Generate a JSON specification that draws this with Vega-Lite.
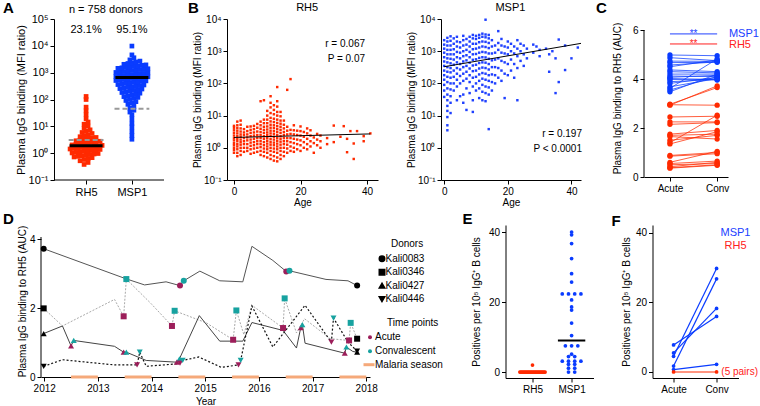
{
"$schema":"https://vega.github.io/schema/vega-lite/v6.json",
"padding":{"left":2,"top":0,"right":0,"bottom":0},
"background":"white",
"config":{
 "font":"Liberation Sans",
 "view":{"stroke":null},
 "axis":{"grid":false,"domainColor":"#000","tickColor":"#000","labelColor":"#000","titleColor":"#000","labelFontSize":10,"titleFontSize":10,"titleFontWeight":"normal","tickSize":4,"labelPadding":2,"labelFlush":false,"labelOverlap":false,"labelFont":"Liberation Sans","titleFont":"Liberation Sans"},
 "text":{"font":"Liberation Sans","color":"#000"},
 "legend":{"labelFontSize":10,"titleFontSize":10,"titleFontWeight":"normal","labelColor":"#000","titleColor":"#000","labelFont":"Liberation Sans","titleFont":"Liberation Sans","padding":0}
},
"datasets":{
 "a":[
  {"g":"RH5","v":[0.38,0.45,0.52,0.58,0.63,0.68,0.72,0.76,0.8,0.85,0.89,0.93,0.97,1.02,1.07,1.12,1.17,1.22,1.27,1.32,1.38,1.43,1.5,1.56,1.62,1.68,1.74,1.8,1.87,1.95,2.03,2.12,2.22,2.32,2.43,2.55,2.66,2.78,2.9,3.05,3.2,3.4,3.6,3.85,4.1,4.5,4.9,5.4,5.9,6.6,7.4,8.5,10.2,12,14.5,19,27,38,52,100,130]},
  {"g":"MSP1","v":[3.3,4.6,6.5,9.5,13,19,27,34,40,48,56,66,74,83,92,100,110,120,128,136,148,160,172,182,192,205,218,232,246,255,270,285,300,315,330,348,360,380,400,420,440,460,480,495,510,530,555,580,605,630,655,680,700,720,750,780,810,840,870,900,940,980,1020,1060,1100,1150,1200,1250,1300,1350,1400,1450,1520,1590,1660,1730,1800,1870,1950,2050,2200,2350,2500,2700,3000,3600,4600,9800]}
 ],
 "brh5":[
  {"a":0,"v":[0.7,0.85,1.0,1.2,1.4,1.7,2.0,2.4,2.9,3.5,4.2,4.8]},
  {"a":1,"v":[0.55,0.7,0.9,1.1,1.3,1.6,1.9,2.3,2.8,3.4,4.1,5.0,6.5]},
  {"a":2,"v":[0.6,0.8,1.0,1.25,1.5,1.8,2.2,2.6,3.2,4.0,5.2,7.0]},
  {"a":3,"v":[0.75,1.0,1.3,1.6,2.0,2.5,3.0,3.8]},
  {"a":4,"v":[0.8,1.0,1.3,1.7,2.1,2.6,3.3,4.5]},
  {"a":5,"v":[0.65,0.9,1.15,1.45,1.8,2.3,2.9,3.6,4.6]},
  {"a":6,"v":[0.7,0.95,1.2,1.5,1.9,2.4,3.0,3.8,4.8]},
  {"a":7,"v":[0.75,1.0,1.3,1.6,2.0,2.5,3.2,4.2,5.5]},
  {"a":8,"v":[0.6,0.8,1.05,1.3,1.6,2.0,2.5,3.1,3.9,5.0,6.5,28]},
  {"a":9,"v":[0.55,0.75,0.95,1.2,1.5,1.9,2.3,2.9,3.6,4.5,5.8,7.5,30]},
  {"a":10,"v":[0.5,0.7,0.9,1.1,1.35,1.65,2.0,2.5,3.0,3.7,4.6,5.8,7.5,10,14]},
  {"a":11,"v":[0.45,0.6,0.8,1.0,1.25,1.5,1.85,2.3,2.8,3.4,4.2,5.2,6.6,8.5,12,18,25,40]},
  {"a":12,"v":[0.4,0.55,0.75,0.95,1.2,1.45,1.8,2.2,2.7,3.3,4.1,5.0,6.3,8,11,15,21]},
  {"a":13,"v":[0.38,0.5,0.7,0.9,1.1,1.35,1.65,2.0,2.5,3.1,3.8,4.7,5.9,7.5,10,13,19,28,77]},
  {"a":14,"v":[0.45,0.6,0.8,1.0,1.25,1.55,1.9,2.3,2.9,3.6,4.5,5.6,7,9.5,13]},
  {"a":15,"v":[0.55,0.75,1.0,1.3,1.6,2.0,2.5,3.1,4.0,5.2,7.0]},
  {"a":16,"v":[0.7,0.95,1.25,1.6,2.0,2.6,3.4,4.5,63]},
  {"a":17,"v":[0.8,1.1,1.5,2.0,2.7,3.6,136]},
  {"a":18,"v":[0.75,1.0,1.4,1.9,2.6,3.5,5.0]},
  {"a":19,"v":[0.9,1.3,1.8,2.5,3.4]},
  {"a":20,"v":[0.8,1.2,1.7,2.4,3.3,4.6]},
  {"a":21,"v":[1.0,1.5,2.2,3.1]},
  {"a":22,"v":[0.9,1.3,1.9,2.8,4.0]},
  {"a":23,"v":[1.1,1.6,2.4,3.5]},
  {"a":24,"v":[0.7,1.4,2.1]},
  {"a":25,"v":[1.2,1.8,2.7]},
  {"a":26,"v":[1.0,1.6,2.4]},
  {"a":28,"v":[1.3,2.0]},
  {"a":30,"v":[4.9,1.5]},
  {"a":32,"v":[2.2]},
  {"a":33,"v":[4.7]},
  {"a":34,"v":[1.9,0.73]},
  {"a":35,"v":[3.3]},
  {"a":36,"v":[1.36,0.45]},
  {"a":37,"v":[3.3]},
  {"a":39,"v":[2.3,1.6]},
  {"a":41,"v":[2.8]}
 ],
 "bmsp1":[
  {"a":0,"v":[38,60,90,130,180,250,350,480,650,900,1200,1600,2200]},
  {"a":1,"v":[3.5,5,9,14,20,30,45,70,110,160,230,320,450,600,800,1100,1500,2000,2600]},
  {"a":2,"v":[12,25,40,65,100,150,220,300,420,580,800,1100,1500,2100,2900]},
  {"a":3,"v":[60,100,160,250,380,550,800,1150,1700,2500]},
  {"a":4,"v":[30,80,130,200,300,450,650,950,1400,2000,2800]},
  {"a":5,"v":[40,100,170,270,400,600,900,1300,1900]},
  {"a":6,"v":[25,45,120,200,320,480,700,1000,1500,2200,3000]},
  {"a":7,"v":[15,70,140,230,350,520,750,1100,1600,2400]},
  {"a":8,"v":[50,110,180,290,440,650,950,1400,2000,2800]},
  {"a":9,"v":[13,30,80,150,240,360,540,800,1150,1700,2500,3200]},
  {"a":10,"v":[60,100,160,250,380,560,820,1200,1700,2400,3000]},
  {"a":11,"v":[35,70,120,190,290,430,620,900,1300,1900,2600,3200]},
  {"a":12,"v":[30,55,90,140,210,310,450,650,950,1400,2000,2800,3500]},
  {"a":13,"v":[28,50,80,130,200,300,440,640,920,1350,1950,2700,3300,9500]},
  {"a":14,"v":[3.8,45,75,120,180,270,400,580,850,1250,1800,2500,3200]},
  {"a":15,"v":[60,110,190,320,520,850,1400,2200]},
  {"a":16,"v":[100,180,320,550,900,1500]},
  {"a":17,"v":[150,300,600,1100,1800,4200]},
  {"a":18,"v":[120,250,500,900,1500,2400]},
  {"a":19,"v":[35,200,450,850,1400]},
  {"a":20,"v":[180,400,800,1300,2000]},
  {"a":21,"v":[250,550,1000,1700]},
  {"a":22,"v":[150,400,850,1400]},
  {"a":23,"v":[30,300,700,1200,2200]},
  {"a":24,"v":[500,1000,1700]},
  {"a":25,"v":[350,800,1500]},
  {"a":26,"v":[600,1200]},
  {"a":28,"v":[900,1600]},
  {"a":29,"v":[1400]},
  {"a":30,"v":[700,1100]},
  {"a":32,"v":[1200]},
  {"a":33,"v":[230,800]},
  {"a":34,"v":[1000]},
  {"a":35,"v":[50,600]},
  {"a":36,"v":[110,2300]},
  {"a":38,"v":[260,1500]},
  {"a":40,"v":[600]},
  {"a":42,"v":[1300]}
 ],
 "c":[
  {"ag":"MSP1","ac":4.98,"cv":4.95},{"ag":"MSP1","ac":4.87,"cv":4.75},{"ag":"MSP1","ac":4.73,"cv":4.72},{"ag":"MSP1","ac":4.67,"cv":4.68},{"ag":"MSP1","ac":4.57,"cv":4.7},{"ag":"MSP1","ac":4.5,"cv":4.78},{"ag":"MSP1","ac":4.37,"cv":4.3},{"ag":"MSP1","ac":4.3,"cv":4.25},{"ag":"MSP1","ac":4.2,"cv":4.2},{"ag":"MSP1","ac":4.12,"cv":4.1},{"ag":"MSP1","ac":4.07,"cv":4.15},{"ag":"MSP1","ac":3.98,"cv":4.0},{"ag":"MSP1","ac":3.89,"cv":3.98},{"ag":"MSP1","ac":3.82,"cv":4.07},{"ag":"MSP1","ac":3.68,"cv":4.02},{"ag":"MSP1","ac":3.62,"cv":4.82},{"ag":"MSP1","ac":3.55,"cv":4.1},{"ag":"MSP1","ac":3.48,"cv":4.2},{"ag":"MSP1","ac":4.02,"cv":3.96},
  {"ag":"RH5","ac":2.93,"cv":3.72},{"ag":"RH5","ac":2.95,"cv":2.93},{"ag":"RH5","ac":2.97,"cv":3.65},{"ag":"RH5","ac":2.45,"cv":2.48},{"ag":"RH5","ac":2.25,"cv":2.25},{"ag":"RH5","ac":2.15,"cv":2.22},{"ag":"RH5","ac":1.75,"cv":1.9},{"ag":"RH5","ac":1.7,"cv":1.75},{"ag":"RH5","ac":1.65,"cv":1.55},{"ag":"RH5","ac":1.5,"cv":1.7},{"ag":"RH5","ac":1.4,"cv":2.52},{"ag":"RH5","ac":1.35,"cv":1.85},{"ag":"RH5","ac":0.88,"cv":1.0},{"ag":"RH5","ac":0.85,"cv":0.95},{"ag":"RH5","ac":0.6,"cv":1.05},{"ag":"RH5","ac":0.55,"cv":0.65},{"ag":"RH5","ac":0.5,"cv":0.55},{"ag":"RH5","ac":0.42,"cv":0.6},{"ag":"RH5","ac":0.38,"cv":0.5},{"ag":"RH5","ac":0.36,"cv":0.48}
 ],
 "d":[
  {"d":"Kali0083","x":2011.99,"v":3.72,"t":"Donor"},{"d":"Kali0083","x":2013.52,"v":2.85,"t":""},{"d":"Kali0083","x":2013.87,"v":2.67,"t":""},{"d":"Kali0083","x":2014.27,"v":2.76,"t":""},{"d":"Kali0083","x":2014.53,"v":2.65,"t":"Acute"},{"d":"Kali0083","x":2014.6,"v":2.79,"t":"Convalescent"},{"d":"Kali0083","x":2014.9,"v":3.07,"t":""},{"d":"Kali0083","x":2015.27,"v":2.79,"t":""},{"d":"Kali0083","x":2015.7,"v":2.76,"t":""},{"d":"Kali0083","x":2015.87,"v":3.79,"t":""},{"d":"Kali0083","x":2016.26,"v":3.38,"t":""},{"d":"Kali0083","x":2016.51,"v":3.06,"t":"Acute"},{"d":"Kali0083","x":2016.57,"v":3.08,"t":"Convalescent"},{"d":"Kali0083","x":2017.25,"v":2.83,"t":""},{"d":"Kali0083","x":2017.66,"v":2.79,"t":""},{"d":"Kali0083","x":2017.83,"v":2.65,"t":"Donor"},
  {"d":"Kali0346","x":2011.99,"v":1.99,"t":"Donor"},{"d":"Kali0346","x":2012.34,"v":1.48,"t":""},{"d":"Kali0346","x":2013.31,"v":2.25,"t":""},{"d":"Kali0346","x":2013.48,"v":1.76,"t":"Acute"},{"d":"Kali0346","x":2013.53,"v":2.84,"t":"Convalescent"},{"d":"Kali0346","x":2013.99,"v":2.13,"t":""},{"d":"Kali0346","x":2014.38,"v":1.48,"t":"Acute"},{"d":"Kali0346","x":2014.43,"v":1.92,"t":"Convalescent"},{"d":"Kali0346","x":2015.02,"v":1.57,"t":""},{"d":"Kali0346","x":2015.52,"v":1.08,"t":"Acute"},{"d":"Kali0346","x":2015.58,"v":1.93,"t":"Convalescent"},{"d":"Kali0346","x":2015.72,"v":1.23,"t":""},{"d":"Kali0346","x":2015.87,"v":2.08,"t":""},{"d":"Kali0346","x":2016.45,"v":1.42,"t":"Acute"},{"d":"Kali0346","x":2016.48,"v":2.28,"t":"Convalescent"},{"d":"Kali0346","x":2016.7,"v":1.28,"t":""},{"d":"Kali0346","x":2016.85,"v":1.69,"t":""},{"d":"Kali0346","x":2017.33,"v":1.11,"t":""},{"d":"Kali0346","x":2017.68,"v":1.06,"t":"Acute"},{"d":"Kali0346","x":2017.71,"v":1.57,"t":"Convalescent"},{"d":"Kali0346","x":2017.83,"v":1.11,"t":"Donor"},
  {"d":"Kali0427","x":2011.99,"v":1.26,"t":"Donor"},{"d":"Kali0427","x":2012.34,"v":1.48,"t":""},{"d":"Kali0427","x":2012.5,"v":0.9,"t":"Acute"},{"d":"Kali0427","x":2012.55,"v":1.06,"t":"Convalescent"},{"d":"Kali0427","x":2013.31,"v":0.89,"t":""},{"d":"Kali0427","x":2013.48,"v":0.72,"t":"Acute"},{"d":"Kali0427","x":2013.53,"v":0.72,"t":"Convalescent"},{"d":"Kali0427","x":2013.9,"v":0.48,"t":""},{"d":"Kali0427","x":2014.47,"v":0.43,"t":"Acute"},{"d":"Kali0427","x":2014.52,"v":0.53,"t":"Convalescent"},{"d":"Kali0427","x":2014.89,"v":1.78,"t":""},{"d":"Kali0427","x":2015.27,"v":1.04,"t":""},{"d":"Kali0427","x":2015.7,"v":1.04,"t":""},{"d":"Kali0427","x":2015.87,"v":1.58,"t":""},{"d":"Kali0427","x":2016.45,"v":1.35,"t":""},{"d":"Kali0427","x":2016.7,"v":0.84,"t":""},{"d":"Kali0427","x":2016.78,"v":1.43,"t":"Acute"},{"d":"Kali0427","x":2016.81,"v":1.52,"t":"Convalescent"},{"d":"Kali0427","x":2016.86,"v":0.98,"t":""},{"d":"Kali0427","x":2017.6,"v":0.69,"t":"Acute"},{"d":"Kali0427","x":2017.63,"v":0.87,"t":"Convalescent"},{"d":"Kali0427","x":2017.75,"v":0.74,"t":""},{"d":"Kali0427","x":2017.83,"v":0.72,"t":"Donor"},
  {"d":"Kali0446","x":2011.99,"v":0.31,"t":"Donor"},{"d":"Kali0446","x":2012.34,"v":0.5,"t":""},{"d":"Kali0446","x":2013.31,"v":0.35,"t":""},{"d":"Kali0446","x":2013.73,"v":0.35,"t":"Acute"},{"d":"Kali0446","x":2013.78,"v":0.72,"t":"Convalescent"},{"d":"Kali0446","x":2013.9,"v":0.31,"t":""},{"d":"Kali0446","x":2014.46,"v":0.38,"t":""},{"d":"Kali0446","x":2014.53,"v":0.4,"t":"Acute"},{"d":"Kali0446","x":2014.58,"v":0.48,"t":"Convalescent"},{"d":"Kali0446","x":2014.88,"v":0.58,"t":""},{"d":"Kali0446","x":2015.3,"v":0.28,"t":""},{"d":"Kali0446","x":2015.62,"v":0.35,"t":"Acute"},{"d":"Kali0446","x":2015.66,"v":0.48,"t":"Convalescent"},{"d":"Kali0446","x":2015.87,"v":2.06,"t":""},{"d":"Kali0446","x":2016.26,"v":0.87,"t":""},{"d":"Kali0446","x":2016.86,"v":2.08,"t":""},{"d":"Kali0446","x":2017.35,"v":1.01,"t":"Acute"},{"d":"Kali0446","x":2017.39,"v":1.71,"t":"Convalescent"},{"d":"Kali0446","x":2017.66,"v":1.01,"t":""},{"d":"Kali0446","x":2017.83,"v":0.75,"t":"Donor"}
 ],
 "seasons":[{"s":2012.5,"e":2013.0},{"s":2013.5,"e":2014.0},{"s":2014.5,"e":2015.0},{"s":2015.5,"e":2016.0},{"s":2016.5,"e":2017.0},{"s":2017.5,"e":2018.0}],
 "e":[
  {"g":"RH5","v":[0,0,0,0,0,0,0,0,0,0,0,0,0,0,0,0,0,0,0,0,0,0,0,0,2]},
  {"g":"MSP1","v":[40.0,39.2,36.7,32.4,28.1,25.7,22.3,22.3,22.3,22.3,20.6,18.6,17.7,14.0,10.4,7.5,7.5,7.5,5.1,4.4,4.4,3.1,3.1,3.1,3.1,2.2,2.2,1.1,1.1,0,0]}
 ],
 "f":[
  {"ag":"MSP1","ac":7.8,"cv":16.0},{"ag":"MSP1","ac":5.5,"cv":18.3},{"ag":"MSP1","ac":4.5,"cv":29.8},{"ag":"MSP1","ac":1.7,"cv":26.8},{"ag":"MSP1","ac":0.7,"cv":2.2},{"ag":"RH5","ac":0,"cv":0}
 ]
},
"concat":[
 {"hconcat":[
    {"width":123,"height":161,
     "layer":[
      {"data":{"name":"a"},
       "transform":[{"flatten":["v"]},{"calculate":"floor(log(datum.v)/LN10/0.15)","as":"bin"},{"window":[{"op":"row_number","as":"rn"}],"groupby":["g","bin"]},{"joinaggregate":[{"op":"count","as":"n"}],"groupby":["g","bin"]},{"calculate":"(datum.g=='RH5'?1:2)+(datum.rn-1-(datum.n-1)/2)*0.0873","as":"xp"}],
       "mark":{"type":"square","size":22,"opacity":1},
       "encoding":{
        "x":{"field":"xp","type":"quantitative","scale":{"domain":[0.0163,2.7],"nice":false,"zero":false},"axis":{"values":[1,2],"labelExpr":"datum.value==1?'RH5':'MSP1'","title":null,"labelFontSize":11,"domain":false}},
        "y":{"field":"v","type":"quantitative","scale":{"type":"log","domain":[0.1,100000],"nice":false},"axis":{"values":[0.1,1,10,100,1000,10000,100000],"labelExpr":"'10' + ['⁻¹','⁰','¹','²','³','⁴','⁵'][round(log(datum.value)/LN10)+1]","title":"Plasma IgG binding (MFI ratio)","titlePadding":2,"labelFontSize":11,"titleFontSize":11,"offset":-13}},
        "color":{"field":"g","type":"nominal","scale":{"domain":["RH5","MSP1"],"range":["#ff2a00","#0a3cff"]},"legend":null}}},
      {"data":{"values":[{}]},"mark":{"type":"rule","color":"#000","strokeWidth":1},"encoding":{"x":{"datum":0.3},"x2":{"datum":2.7},"y":{"datum":0.1}}},
      {"data":{"values":[{"g":"RH5","m":3.1},{"g":"MSP1","m":45}]},
       "transform":[{"calculate":"(datum.g=='RH5'?1:2)-0.38","as":"x1"},{"calculate":"(datum.g=='RH5'?1:2)+0.38","as":"x2"}],
       "mark":{"type":"rule","color":"#999999","strokeWidth":2,"strokeDash":[5,3]},
       "encoding":{"x":{"field":"x1","type":"quantitative"},"x2":{"field":"x2"},"y":{"field":"m","type":"quantitative"}}},
      {"data":{"values":[{"g":"RH5","m":1.88},{"g":"MSP1","m":660}]},
       "transform":[{"calculate":"(datum.g=='RH5'?1:2)-0.36","as":"x1"},{"calculate":"(datum.g=='RH5'?1:2)+0.36","as":"x2"}],
       "mark":{"type":"rule","color":"#000","strokeWidth":3},
       "encoding":{"x":{"field":"x1","type":"quantitative"},"x2":{"field":"x2"},"y":{"field":"m","type":"quantitative"}}},
      {"data":{"values":[{}]},"mark":{"type":"text","text":"23.1%","fontSize":11,"baseline":"middle"},"encoding":{"x":{"datum":1},"y":{"datum":39000}}},
      {"data":{"values":[{}]},"mark":{"type":"text","text":"95.1%","fontSize":11,"baseline":"middle"},"encoding":{"x":{"datum":2},"y":{"datum":39000}}},
      {"data":{"values":[{}]},"mark":{"type":"text","text":"n = 758 donors","fontSize":11,"baseline":"middle"},"encoding":{"x":{"datum":1.43},"y":{"datum":220000}}},
      {"data":{"values":[{}]},"mark":{"type":"text","text":"A","fontSize":15,"fontWeight":"bold","align":"left","baseline":"alphabetic"},"encoding":{"x":{"datum":-0.813},"y":{"datum":167000}}}
     ]},
    {"width":151,"height":161,
     "layer":[
      {"data":{"name":"brh5"},"transform":[{"flatten":["v"]}],
       "mark":{"type":"square","size":6,"color":"#ff2a00","opacity":1},
       "encoding":{
        "x":{"field":"a","type":"quantitative","scale":{"domain":[-2.1,43.3],"nice":false,"zero":false},"axis":{"values":[0,10,20,30,40],"title":"Age","titlePadding":1}},
        "y":{"field":"v","type":"quantitative","scale":{"type":"log","domain":[0.1,10000],"nice":false},"axis":{"values":[0.1,1,10,100,1000,10000],"labelExpr":"'10' + ['⁻¹','⁰','¹','²','³','⁴','⁵'][round(log(datum.value)/LN10)+1]","title":"Plasma IgG binding (MFI ratio)","titlePadding":1}}}},
      {"data":{"values":[{"a":0,"v":2.1},{"a":41,"v":2.7}]},"mark":{"type":"line","color":"#000","strokeWidth":1},"encoding":{"x":{"field":"a","type":"quantitative"},"y":{"field":"v","type":"quantitative"}}},
      {"data":{"values":[{}]},"mark":{"type":"text","text":"r = 0.067","align":"right","baseline":"middle","fontSize":10},"encoding":{"x":{"datum":39.4},"y":{"datum":1660}}},
      {"data":{"values":[{}]},"mark":{"type":"text","text":"P = 0.07","align":"right","baseline":"middle","fontSize":10},"encoding":{"x":{"datum":39.4},"y":{"datum":590}}},
      {"data":{"values":[{}]},"mark":{"type":"text","text":"RH5","fontSize":11,"baseline":"middle"},"encoding":{"x":{"datum":22},"y":{"datum":22000}}},
      {"data":{"values":[{}]},"mark":{"type":"text","text":"B","fontSize":15,"fontWeight":"bold","align":"left","baseline":"alphabetic"},"encoding":{"x":{"datum":-13.83},"y":{"datum":15350}}}
     ]},
    {"width":140,"height":161,
     "layer":[
      {"data":{"name":"bmsp1"},"transform":[{"flatten":["v"]}],
       "mark":{"type":"square","size":6,"color":"#1f40ff","opacity":1},
       "encoding":{
        "x":{"field":"a","type":"quantitative","scale":{"domain":[-1,43],"nice":false,"zero":false},"axis":{"values":[0,10,20,30,40],"title":"Age","titlePadding":1}},
        "y":{"field":"v","type":"quantitative","scale":{"type":"log","domain":[0.1,10000],"nice":false},"axis":{"values":[0.1,1,10,100,1000,10000],"labelExpr":"'10' + ['⁻¹','⁰','¹','²','³','⁴','⁵'][round(log(datum.value)/LN10)+1]","title":"Plasma IgG binding (MFI ratio)","titlePadding":1}}}},
      {"data":{"values":[{"a":0,"v":330},{"a":43,"v":1750}]},"mark":{"type":"line","color":"#000","strokeWidth":1},"encoding":{"x":{"field":"a","type":"quantitative"},"y":{"field":"v","type":"quantitative"}}},
      {"data":{"values":[{}]},"mark":{"type":"text","text":"r = 0.197","align":"right","baseline":"middle","fontSize":10},"encoding":{"x":{"datum":43.3},"y":{"datum":2.6}}},
      {"data":{"values":[{}]},"mark":{"type":"text","text":"P < 0.0001","align":"right","baseline":"middle","fontSize":10},"encoding":{"x":{"datum":43.3},"y":{"datum":0.93}}},
      {"data":{"values":[{}]},"mark":{"type":"text","text":"MSP1","fontSize":11,"baseline":"middle"},"encoding":{"x":{"datum":20.8},"y":{"datum":22000}}}
     ]},
    {"width":84,"height":158,
     "layer":[
      {"data":{"name":"c"},
       "transform":[{"window":[{"op":"row_number","as":"id"}]},{"fold":["ac","cv"],"as":["tp","v"]},{"calculate":"datum.tp=='ac'?1:2","as":"t"}],
       "mark":{"type":"line","strokeWidth":1,"opacity":0.75},
       "encoding":{
        "x":{"field":"t","type":"quantitative","scale":{"domain":[0.45,2.23],"nice":false,"zero":false},"axis":{"values":[1,2],"labelExpr":"datum.value==1?'Acute':'Conv'","title":null}},
        "y":{"field":"v","type":"quantitative","scale":{"domain":[0,6.449],"nice":false},"axis":{"values":[0,1,2,3,4,5,6],"labelExpr":"datum.value%2==0?datum.label:''","title":"Plasma IgG binding to RH5 (AUC)","titlePadding":10,"domain":false}},
        "detail":{"field":"id"},
        "color":{"field":"ag","type":"nominal","scale":{"domain":["MSP1","RH5"],"range":["#2040ff","#ff2020"]},"legend":null}}},
      {"data":{"name":"c"},
       "transform":[{"window":[{"op":"row_number","as":"id"}]},{"fold":["ac","cv"],"as":["tp","v"]},{"calculate":"datum.tp=='ac'?1:2","as":"t"}],
       "mark":{"type":"circle","size":28,"opacity":1},
       "encoding":{"x":{"field":"t","type":"quantitative"},"y":{"field":"v","type":"quantitative"},"color":{"field":"ag","type":"nominal","legend":null}}},
      {"data":{"values":[{}]},"mark":{"type":"rule","color":"#000","strokeWidth":1},"encoding":{"x":{"datum":0.45},"y":{"datum":0},"y2":{"datum":6}}},
      {"data":{"values":[{}]},"mark":{"type":"rule","color":"#2040ff","strokeWidth":1},"encoding":{"x":{"datum":1},"x2":{"datum":2},"y":{"datum":5.84}}},
      {"data":{"values":[{}]},"mark":{"type":"rule","color":"#ff2020","strokeWidth":1},"encoding":{"x":{"datum":1},"x2":{"datum":2},"y":{"datum":5.43}}},
      {"data":{"values":[{}]},"mark":{"type":"text","text":"**","color":"#2040ff","fontSize":10,"baseline":"middle"},"encoding":{"x":{"datum":1.5},"y":{"datum":5.82}}},
      {"data":{"values":[{}]},"mark":{"type":"text","text":"**","color":"#ff2020","fontSize":10,"baseline":"middle"},"encoding":{"x":{"datum":1.5},"y":{"datum":5.41}}},
      {"data":{"values":[{}]},"mark":{"type":"text","text":"MSP1","color":"#2040ff","fontSize":11,"align":"left","baseline":"middle"},"encoding":{"x":{"datum":2.25},"y":{"datum":5.84}}},
      {"data":{"values":[{}]},"mark":{"type":"text","text":"RH5","color":"#ff2020","fontSize":11,"align":"left","baseline":"middle"},"encoding":{"x":{"datum":2.25},"y":{"datum":5.39}}},
      {"data":{"values":[{}]},"mark":{"type":"text","text":"C","fontSize":15,"fontWeight":"bold","align":"left","baseline":"alphabetic"},"encoding":{"x":{"datum":-0.567},"y":{"datum":6.694}}}
     ]}
 ],"spacing":63,"bounds":"flush"},
 {"hconcat":[
   {"width":329,"height":152,
    "layer":[
     {"data":{"name":"seasons"},"mark":{"type":"rule","strokeWidth":3},"encoding":{"x":{"field":"s","type":"quantitative"},"x2":{"field":"e"},"y":{"datum":0},
       "stroke":{"datum":"Malaria season","scale":{"domain":["Malaria season"],"range":["#f5a97a"]},
        "legend":{"title":null,"orient":"none","legendX":321,"legendY":338.7,"symbolSize":121,"symbolStrokeWidth":3,"labelOffset":-1}}}},
     {"data":{"name":"d"},"transform":[{"filter":"datum.d=='Kali0083'"}],"mark":{"type":"line","strokeWidth":1,"color":"#555555"},
      "encoding":{
       "x":{"field":"x","type":"quantitative","scale":{"domain":[2011.94,2018.07],"nice":false,"zero":false},"axis":{"values":[2012,2013,2014,2015,2016,2017,2018],"format":"d","title":"Year","titlePadding":3}},
       "y":{"field":"v","type":"quantitative","scale":{"domain":[0,4.408],"nice":false},"axis":{"values":[0,1,2,3,4],"title":"Plasma IgG binding to RH5 (AUC)","titlePadding":2,"domain":false}}}},
     {"data":{"values":[{}]},"mark":{"type":"rule","color":"#000","strokeWidth":1},"encoding":{"x":{"datum":2011.94},"y":{"datum":0},"y2":{"datum":4.06}}},
     {"data":{"name":"d"},"transform":[{"filter":"datum.d=='Kali0346'"}],"mark":{"type":"line","strokeWidth":1,"color":"#aaaaaa","strokeDash":[2,1.5]},
      "encoding":{"x":{"field":"x","type":"quantitative"},"y":{"field":"v","type":"quantitative"}}},
     {"data":{"name":"d"},"transform":[{"filter":"datum.d=='Kali0427'"}],"mark":{"type":"line","strokeWidth":1,"color":"#444444"},
      "encoding":{"x":{"field":"x","type":"quantitative"},"y":{"field":"v","type":"quantitative"}}},
     {"data":{"name":"d"},"transform":[{"filter":"datum.d=='Kali0446'"}],"mark":{"type":"line","strokeWidth":1.2,"color":"#111111","strokeDash":[2,2]},
      "encoding":{"x":{"field":"x","type":"quantitative"},"y":{"field":"v","type":"quantitative"}}},
     {"data":{"name":"d"},"transform":[{"filter":"datum.t != ''"}],
      "mark":{"type":"point","filled":true,"opacity":1,"size":36},
      "encoding":{
       "x":{"field":"x","type":"quantitative"},
       "y":{"field":"v","type":"quantitative"},
       "shape":{"field":"d","type":"nominal","scale":{"domain":["Kali0083","Kali0346","Kali0427","Kali0446"],"range":["circle","square","triangle-up","triangle-down"]},
        "legend":{"title":null,"orient":"none","legendX":336,"legendY":234.7,"symbolSize":30,"symbolFillColor":"#000","symbolStrokeColor":"#000","labelOffset":-1.5,"rowPadding":1.5}},
       "fill":{"field":"t","type":"nominal","scale":{"domain":["Acute","Convalescent","Donor"],"range":["#9c1e5a","#17a2a0","#000000"]},
        "legend":{"title":null,"orient":"none","legendX":324,"legendY":313.3,"values":["Acute","Convalescent"],"symbolType":"circle","symbolSize":16,"labelOffset":0,"rowPadding":4}}}},
     {"data":{"values":[{}]},"mark":{"type":"text","text":"Donors","fontSize":10,"align":"left","baseline":"middle"},"encoding":{"x":{"datum":2018.46},"y":{"datum":3.857}}},
     {"data":{"values":[{}]},"mark":{"type":"text","text":"Time points","fontSize":10,"align":"left","baseline":"middle"},"encoding":{"x":{"datum":2018.387},"y":{"datum":1.566}}},
     {"data":{"values":[{}]},"mark":{"type":"text","text":"D","fontSize":15,"fontWeight":"bold","align":"left","baseline":"alphabetic"},"encoding":{"x":{"datum":2011.232},"y":{"datum":4.437}}}
    ]},
   {"hconcat":[
     {"width":88,"height":153,
      "layer":[
       {"data":{"name":"e"},
        "transform":[{"flatten":["v"]},{"calculate":"floor(datum.v)","as":"bin"},{"window":[{"op":"row_number","as":"rn"}],"groupby":["g","bin"]},{"joinaggregate":[{"op":"count","as":"n"}],"groupby":["g","bin"]},{"calculate":"(datum.g=='RH5'?1:2)+(datum.rn-1-(datum.n-1)/2)*(datum.g=='RH5'?0.028:0.159)","as":"xp"}],
        "mark":{"type":"circle","size":14,"opacity":1},
        "encoding":{
         "x":{"field":"xp","type":"quantitative","scale":{"domain":[0.31,2.56],"nice":false,"zero":false},"axis":{"values":[1,2],"labelExpr":"datum.value==1?'RH5':'MSP1'","title":null}},
         "y":{"field":"v","type":"quantitative","scale":{"domain":[-1.71,42],"nice":false,"zero":false},"axis":{"values":[0,5,10,15,20,25,30,35,40],"labelExpr":"datum.value%10==0?datum.label:''","title":"Positives per 10⁵ IgG⁺ B cells","titlePadding":7}},
         "color":{"field":"g","type":"nominal","scale":{"domain":["RH5","MSP1"],"range":["#ff2a00","#1f40ff"]},"legend":null}}},
       {"data":{"values":[{"g":"MSP1","m":9.0}]},
        "transform":[{"calculate":"2-0.35","as":"x1"},{"calculate":"2+0.35","as":"x2"}],
        "mark":{"type":"rule","color":"#000","strokeWidth":2},
        "encoding":{"x":{"field":"x1","type":"quantitative"},"x2":{"field":"x2"},"y":{"field":"m","type":"quantitative"}}},
       {"data":{"values":[{}]},"mark":{"type":"text","text":"E","fontSize":15,"fontWeight":"bold","align":"left","baseline":"alphabetic"},"encoding":{"x":{"datum":-0.789},"y":{"datum":42.29}}}
      ]},
     {"width":86,"height":153,
      "layer":[
       {"data":{"name":"f"},
        "transform":[{"window":[{"op":"row_number","as":"id"}]},{"fold":["ac","cv"],"as":["tp","v"]},{"calculate":"datum.tp=='ac'?1:2","as":"t"}],
        "mark":{"type":"line","strokeWidth":1.2},
        "encoding":{
         "x":{"field":"t","type":"quantitative","scale":{"domain":[0.51,2.51],"nice":false,"zero":false},"axis":{"values":[1,2],"labelExpr":"datum.value==1?'Acute':'Conv'","title":null}},
         "y":{"field":"v","type":"quantitative","scale":{"domain":[-1.73,42.3],"nice":false,"zero":false},"axis":{"values":[0,5,10,15,20,25,30,35,40],"labelExpr":"datum.value%10==0?datum.label:''","title":"Positives per 10⁵ IgG⁺ B cells","titlePadding":4}},
         "detail":{"field":"id"},
         "color":{"field":"ag","type":"nominal","scale":{"domain":["MSP1","RH5"],"range":["#2040ff","#ff2020"]},"legend":null}}},
       {"data":{"name":"f"},
        "transform":[{"window":[{"op":"row_number","as":"id"}]},{"fold":["ac","cv"],"as":["tp","v"]},{"calculate":"datum.tp=='ac'?1:2","as":"t"}],
        "mark":{"type":"circle","size":14,"opacity":1},
        "encoding":{"x":{"field":"t","type":"quantitative"},"y":{"field":"v","type":"quantitative"},"color":{"field":"ag","type":"nominal","legend":null}}},
       {"data":{"values":[{}]},"mark":{"type":"text","text":"(5 pairs)","color":"#ff2020","fontSize":10,"align":"left","baseline":"middle"},"encoding":{"x":{"datum":2.11},"y":{"datum":0}}},
       {"data":{"values":[{}]},"mark":{"type":"text","text":"MSP1","color":"#2040ff","fontSize":11,"align":"center","baseline":"middle"},"encoding":{"x":{"datum":2.44},"y":{"datum":40}}},
       {"data":{"values":[{}]},"mark":{"type":"text","text":"RH5","color":"#ff2020","fontSize":11,"align":"center","baseline":"middle"},"encoding":{"x":{"datum":2.44},"y":{"datum":36.3}}},
       {"data":{"values":[{}]},"mark":{"type":"text","text":"F","fontSize":15,"fontWeight":"bold","align":"left","baseline":"alphabetic"},"encoding":{"x":{"datum":-0.4435},"y":{"datum":42.01}}}
      ]}
   ],"spacing":59,"bounds":"flush"}
 ],"spacing":23.5}
],
"columns":1,
"align":"none",
"spacing":4
}
